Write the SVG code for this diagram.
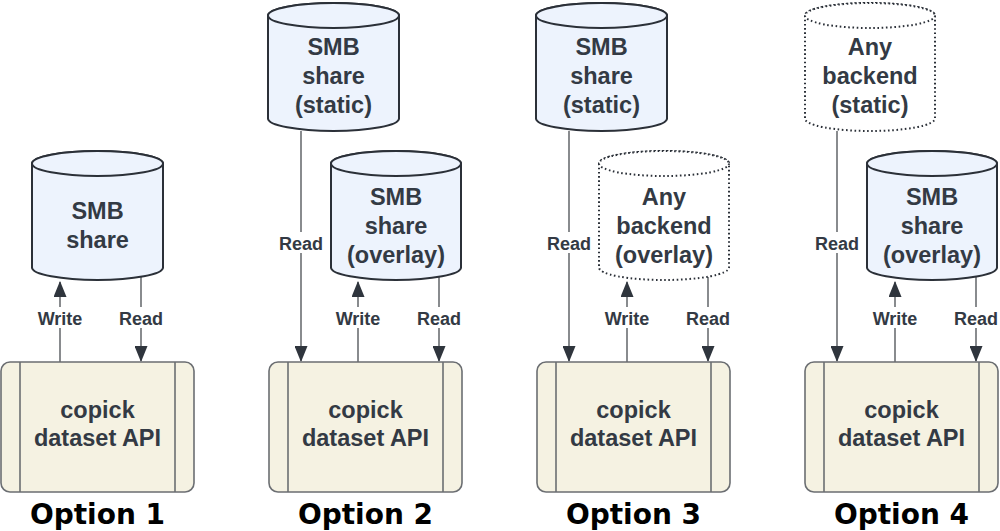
<svg xmlns="http://www.w3.org/2000/svg" width="1000" height="531" viewBox="0 0 1000 531">
<style>
.cyl{fill:#edf3fd;stroke:#2b3038;stroke-width:2}
.dot{fill:#ffffff;stroke:#2b3038;stroke-width:2;stroke-dasharray:1.6 2.6}
.box{fill:#f5f2e2;stroke:#6b6e72;stroke-width:1.6}
.inner{stroke:#6b6e72;stroke-width:1.6}
.t{font-family:"Liberation Sans",Arial,sans-serif;font-weight:bold;font-size:23.5px;fill:#333a44;text-anchor:middle}
.lbl{font-family:"Liberation Sans",Arial,sans-serif;font-weight:bold;font-size:18px;fill:#333a44;text-anchor:middle}
.opt{font-family:"DejaVu Sans",Verdana,sans-serif;font-weight:bold;font-size:28px;fill:#000;text-anchor:middle}
.ln{stroke:#6b6e72;stroke-width:1.6;fill:none}
.bg{fill:#ffffff}
</style>
<defs>
<marker id="ah" markerWidth="16" markerHeight="13" refX="15" refY="6.5" orient="auto" markerUnits="userSpaceOnUse" viewBox="0 0 16 13">
<path d="M0,0 L16,6.5 L0,13 Z" fill="#2f353d"/>
</marker>
</defs>

<g id="connectors">
<line class="ln" x1="60" y1="362" x2="60" y2="282" marker-end="url(#ah)"/>
<line class="ln" x1="141" y1="277" x2="141" y2="361" marker-end="url(#ah)"/>
<line class="ln" x1="301" y1="131" x2="301" y2="361" marker-end="url(#ah)"/>
<line class="ln" x1="358" y1="362" x2="358" y2="282" marker-end="url(#ah)"/>
<line class="ln" x1="439" y1="277" x2="439" y2="361" marker-end="url(#ah)"/>
<line class="ln" x1="569" y1="131" x2="569" y2="361" marker-end="url(#ah)"/>
<line class="ln" x1="627" y1="362" x2="627" y2="282" marker-end="url(#ah)"/>
<line class="ln" x1="708" y1="277" x2="708" y2="361" marker-end="url(#ah)"/>
<line class="ln" x1="837" y1="131" x2="837" y2="361" marker-end="url(#ah)"/>
<line class="ln" x1="895" y1="362" x2="895" y2="282" marker-end="url(#ah)"/>
<line class="ln" x1="976" y1="277" x2="976" y2="361" marker-end="url(#ah)"/>

<g id="labels">
<rect class="bg" x="35" y="307" width="50" height="21"/><text class="lbl" x="60" y="324.5">Write</text>
<rect class="bg" x="117" y="307" width="48" height="21"/><text class="lbl" x="141" y="324.5">Read</text>
<rect class="bg" x="277" y="232" width="48" height="21"/><text class="lbl" x="301" y="249.5">Read</text>
<rect class="bg" x="333" y="307" width="50" height="21"/><text class="lbl" x="358" y="324.5">Write</text>
<rect class="bg" x="415" y="307" width="48" height="21"/><text class="lbl" x="439" y="324.5">Read</text>
<rect class="bg" x="545" y="232" width="48" height="21"/><text class="lbl" x="569" y="249.5">Read</text>
<rect class="bg" x="602" y="307" width="50" height="21"/><text class="lbl" x="627" y="324.5">Write</text>
<rect class="bg" x="684" y="307" width="48" height="21"/><text class="lbl" x="708" y="324.5">Read</text>
<rect class="bg" x="813" y="232" width="48" height="21"/><text class="lbl" x="837" y="249.5">Read</text>
<rect class="bg" x="870" y="307" width="50" height="21"/><text class="lbl" x="895" y="324.5">Write</text>
<rect class="bg" x="952" y="307" width="48" height="21"/><text class="lbl" x="976" y="324.5">Read</text>
</g>
</g>

<g id="opt1-smb">
<path class="cyl" d="M32,163.5 L32,267.5 A65.5,12.5 0 0 0 163,267.5 L163,163.5 A65.5,12.5 0 0 0 32,163.5 Z"/>
<ellipse class="cyl" cx="97.5" cy="163.5" rx="65.5" ry="12.5"/>
<text class="t" x="97.5" y="219">SMB</text>
<text class="t" x="97.5" y="248">share</text>
</g>
<g id="opt1-api">
<rect class="box" x="1" y="362" width="193" height="130" rx="9"/>
<line class="inner" x1="20" y1="362" x2="20" y2="492"/>
<line class="inner" x1="175" y1="362" x2="175" y2="492"/>
<text class="t" x="97.5" y="418">copick</text>
<text class="t" x="97.5" y="446">dataset API</text>
</g>
<text class="opt" x="97.5" y="524">Option 1</text>

<g id="opt2-static">
<path class="cyl" d="M268,15.5 L268,118.5 A65.5,12.5 0 0 0 399,118.5 L399,15.5 A65.5,12.5 0 0 0 268,15.5 Z"/>
<ellipse class="cyl" cx="333.5" cy="15.5" rx="65.5" ry="12.5"/>
<text class="t" x="333.5" y="54.5">SMB</text>
<text class="t" x="333.5" y="83.5">share</text>
<text class="t" x="333.5" y="112.5">(static)</text>
</g>
<g id="opt2-overlay">
<path class="cyl" d="M331,163.5 L331,267.5 A65,12.5 0 0 0 461,267.5 L461,163.5 A65,12.5 0 0 0 331,163.5 Z"/>
<ellipse class="cyl" cx="396" cy="163.5" rx="65" ry="12.5"/>
<text class="t" x="396" y="204.5">SMB</text>
<text class="t" x="396" y="233.5">share</text>
<text class="t" x="396" y="262.5">(overlay)</text>
</g>
<g id="opt2-api">
<rect class="box" x="269" y="362" width="193" height="130" rx="9"/>
<line class="inner" x1="288" y1="362" x2="288" y2="492"/>
<line class="inner" x1="443" y1="362" x2="443" y2="492"/>
<text class="t" x="365.5" y="418">copick</text>
<text class="t" x="365.5" y="446">dataset API</text>
</g>
<text class="opt" x="365.5" y="524">Option 2</text>

<g id="opt3-static">
<path class="cyl" d="M536,15.5 L536,118.5 A65.5,12.5 0 0 0 667,118.5 L667,15.5 A65.5,12.5 0 0 0 536,15.5 Z"/>
<ellipse class="cyl" cx="601.5" cy="15.5" rx="65.5" ry="12.5"/>
<text class="t" x="601.5" y="54.5">SMB</text>
<text class="t" x="601.5" y="83.5">share</text>
<text class="t" x="601.5" y="112.5">(static)</text>
</g>
<g id="opt3-overlay">
<path class="dot" d="M599,163.5 L599,267.5 A65,12.5 0 0 0 729,267.5 L729,163.5 A65,12.5 0 0 0 599,163.5 Z"/>
<ellipse class="dot" cx="664" cy="163.5" rx="65" ry="12.5"/>
<text class="t" x="664" y="204.5">Any</text>
<text class="t" x="664" y="233.5">backend</text>
<text class="t" x="664" y="262.5">(overlay)</text>
</g>
<g id="opt3-api">
<rect class="box" x="537" y="362" width="193" height="130" rx="9"/>
<line class="inner" x1="556" y1="362" x2="556" y2="492"/>
<line class="inner" x1="711" y1="362" x2="711" y2="492"/>
<text class="t" x="633.5" y="418">copick</text>
<text class="t" x="633.5" y="446">dataset API</text>
</g>
<text class="opt" x="633.5" y="524">Option 3</text>

<g id="opt4-static">
<path class="dot" d="M805,15.5 L805,118.5 A65,12.5 0 0 0 935,118.5 L935,15.5 A65,12.5 0 0 0 805,15.5 Z"/>
<ellipse class="dot" cx="870" cy="15.5" rx="65" ry="12.5"/>
<text class="t" x="870" y="54.5">Any</text>
<text class="t" x="870" y="83.5">backend</text>
<text class="t" x="870" y="112.5">(static)</text>
</g>
<g id="opt4-overlay">
<path class="cyl" d="M867,163.5 L867,267.5 A65,12.5 0 0 0 997,267.5 L997,163.5 A65,12.5 0 0 0 867,163.5 Z"/>
<ellipse class="cyl" cx="932" cy="163.5" rx="65" ry="12.5"/>
<text class="t" x="932" y="204.5">SMB</text>
<text class="t" x="932" y="233.5">share</text>
<text class="t" x="932" y="262.5">(overlay)</text>
</g>
<g id="opt4-api">
<rect class="box" x="805" y="362" width="193" height="130" rx="9"/>
<line class="inner" x1="824" y1="362" x2="824" y2="492"/>
<line class="inner" x1="979" y1="362" x2="979" y2="492"/>
<text class="t" x="901.5" y="418">copick</text>
<text class="t" x="901.5" y="446">dataset API</text>
</g>
<text class="opt" x="901.5" y="524">Option 4</text>
</svg>
